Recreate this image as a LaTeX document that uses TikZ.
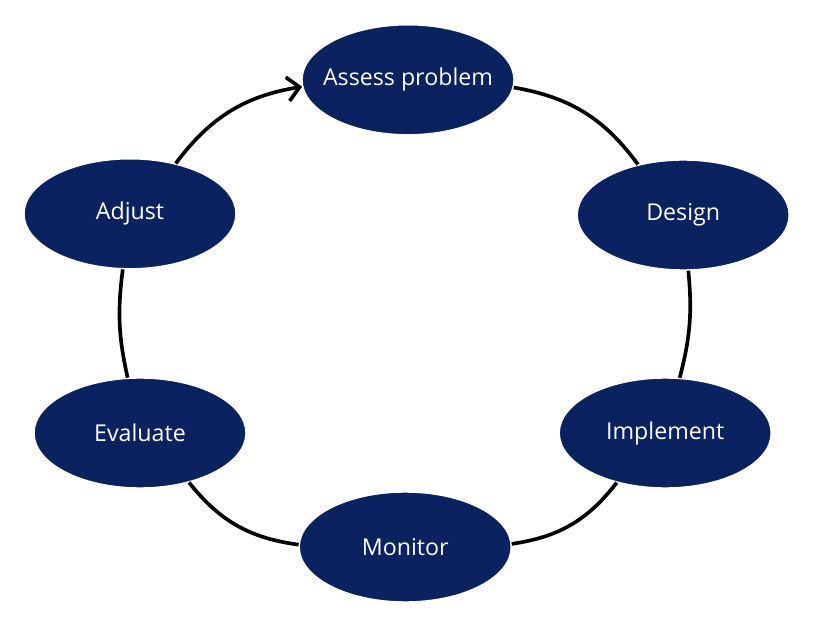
\documentclass[tikz,border=0pt]{standalone}
\usepackage{fontspec}
\setmainfont{Open Sans}
\definecolor{cyNavy}{HTML}{0A2260}
\usetikzlibrary{shapes.geometric,arrows.meta}
\begin{document}
\begin{tikzpicture}[
  stage/.style={ellipse, fill=cyNavy, draw=white, line width=1pt, minimum width=5.3cm, minimum height=2.75cm, inner sep=0pt,
    text=white, font=\fontsize{16.5}{19}\selectfont},
  link/.style={line width=2.6pt, black}
]
  \useasboundingbox (0,0) rectangle (20.45,15.675);

  % -- stages --
  \node[stage, inner xsep=-0.5cm] (assess) at (10.2,13.68) {Assess problem};
  \node[stage] (design) at (17.08,10.3) {Design};
  \node[stage] (implement) at (16.63,4.85) {Implement};
  \node[stage] (monitor) at (10.13,2.0) {Monitor};
  \node[stage] (evaluate) at (3.5,4.85) {Evaluate};
  \node[stage] (adjust) at (3.25,10.33) {Adjust};

  % -- cycle --
  \draw[link] (assess) to[bend left=22] (design);
  \draw[link] (design) to[bend left=10] (implement);
  \draw[link] (implement) to[bend left=22] (monitor);
  \draw[link] (monitor) to[bend left=22] (evaluate);
  \draw[link] (evaluate) to[bend left=10] (adjust);
  \draw[link, -{Straight Barb[length=3mm,width=6mm]}] (adjust) to[bend left=22] (assess);
\end{tikzpicture}
\end{document}
